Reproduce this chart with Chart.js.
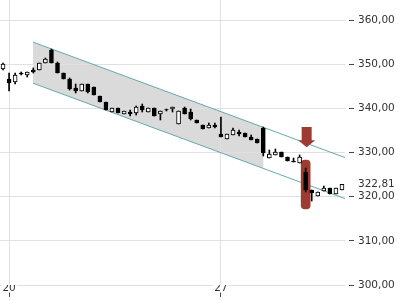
<!DOCTYPE html>
<html><head><meta charset="utf-8">
<script src="https://cdn.jsdelivr.net/npm/chart.js@4/dist/chart.umd.min.js"></script>
<style>html,body{margin:0;padding:0;background:#fff}</style>
</head><body>
<canvas id="c" width="400" height="300"></canvas>
<script>
const categories = ['17 7',
 '20 1','20 2','20 3','20 4','20 5','20 6','20 7',
 '21 1','21 2','21 3','21 4','21 5','21 6','21 7',
 '22 1','22 2','22 3','22 4','22 5','22 6','22 7',
 '23 1','23 2','23 3','23 4','23 5','23 6','23 7',
 '24 1','24 2','24 3','24 4','24 5','24 6','24 7',
 '27 1','27 2','27 3','27 4','27 5','27 6','27 7',
 '28 1','28 2','28 3','28 4','28 5','28 6','28 7',
 '29 1','29 2','29 3','29 4','29 5','29 6','29 7'];
const opens = [348.91,
 346.64,345.96,348.00,347.55,348.68,348.68,350.26,
 353.21,350.26,348.00,346.64,344.60,343.92,345.51,
 344.83,342.79,341.43,339.17,340.08,338.72,339.17,
 338.94,340.53,339.17,340.08,338.72,339.74,339.85,
 336.45,340.08,339.17,337.36,336.23,335.55,336.23,
 334.19,333.06,333.96,334.64,334.41,333.51,333.06,
 335.55,328.75,329.43,330.11,328.98,328.07,327.62,
 325.58,321.51,320.15,321.28,321.96,320.60,321.51];
const highs = [350.26,
 348.00,348.00,348.23,348.23,349.13,350.26,351.40,
 353.43,350.49,348.00,346.87,345.51,345.51,345.51,
 344.83,342.79,341.43,340.08,340.08,339.40,339.62,
 340.53,340.98,340.08,340.08,339.40,339.85,340.30,
 339.40,340.30,339.85,337.36,336.23,336.68,336.68,
 338.04,334.19,335.55,335.09,334.41,333.96,333.06,
 335.77,330.57,330.79,330.11,328.98,328.75,329.43,
 326.49,321.51,321.06,322.41,321.96,321.96,322.81];
const lows = [348.68,
 343.92,345.51,347.55,347.09,348.00,348.68,350.26,
 350.26,348.00,346.64,344.15,343.47,343.92,343.47,
 343.02,341.43,339.62,339.17,338.94,338.72,338.26,
 338.49,339.17,339.17,338.26,337.36,339.40,339.17,
 336.45,338.72,337.36,336.68,335.32,335.55,335.55,
 333.51,333.06,333.96,333.74,333.51,332.83,332.15,
 329.21,328.75,329.43,328.98,328.07,327.85,327.62,
 321.06,319.02,320.15,321.28,320.60,320.60,321.51];
const closes = [350.04,
 345.74,347.55,347.77,348.23,348.23,350.26,351.17,
 350.26,348.00,346.64,344.38,343.92,345.51,343.70,
 343.02,341.43,339.62,340.08,338.94,339.40,338.72,
 340.30,339.62,340.08,338.26,339.40,339.62,340.30,
 339.40,338.72,337.58,336.68,335.32,336.23,335.77,
 333.51,334.19,335.09,334.19,333.51,332.83,332.15,
 329.89,329.66,330.11,328.98,328.07,327.85,328.98,
 321.51,320.83,321.06,321.96,320.60,321.96,322.81];
const xTickDays = ['20','27'];
const yTickValues = [300,310,320,330,340,350,360];
const lastPrice = 322.81;
const channelX = [4.95, 56.5];
const channelUpper = [355.0, 328.85];
const channelLower = [345.7, 319.55];
const channelShadeEnd = 43;
const highlightIndex = 50;
const highlightRange = [317.2, 328.3];
const arrowIndex = 50;
const arrowValues = [335.8, 332.8, 331.2];

const RED = '#9d3b33';
const TEAL = '#66a9ad';
const GRID = '#e0e0e0';
const FONT = {family: 'DejaVu Sans', size: 10.5};

function weekLabel(i) {
  const parts = categories[i].split(' ');
  return (parts[1] === '1' && xTickDays.includes(parts[0])) ? parts[0] : '';
}
const isWeek = i => weekLabel(i) !== '';

const bodyData = opens.map((o, i) => [o, closes[i]]);
const wickData = lows.map((l, i) => [l, highs[i]]);
const bodyColors = opens.map((o, i) => closes[i] >= o ? '#ffffff' : '#000000');
const highlightData = categories.map((c, i) => i === highlightIndex ? highlightRange : null);

const shadePlugin = {
  id: 'shade',
  beforeDraw(chart) {
    const xs = chart.scales.xl, ys = chart.scales.y, ctx = chart.ctx;
    const t = (channelShadeEnd - channelX[0]) / (channelX[1] - channelX[0]);
    const uEnd = channelUpper[0] + t * (channelUpper[1] - channelUpper[0]);
    const lEnd = channelLower[0] + t * (channelLower[1] - channelLower[0]);
    ctx.save();
    ctx.fillStyle = '#dadada';
    ctx.beginPath();
    ctx.moveTo(xs.getPixelForValue(channelX[0]), ys.getPixelForValue(channelUpper[0]));
    ctx.lineTo(xs.getPixelForValue(channelShadeEnd), ys.getPixelForValue(uEnd));
    ctx.lineTo(xs.getPixelForValue(channelShadeEnd), ys.getPixelForValue(lEnd));
    ctx.lineTo(xs.getPixelForValue(channelX[0]), ys.getPixelForValue(channelLower[0]));
    ctx.closePath();
    ctx.fill();
    ctx.restore();
  }
};

const arrowPlugin = {
  id: 'arrow',
  afterDatasetsDraw(chart) {
    const xs = chart.scales.x, ys = chart.scales.y, ctx = chart.ctx;
    const cx = xs.getPixelForValue(arrowIndex) + 1;
    const yTop = ys.getPixelForValue(arrowValues[0]);
    const yBase = ys.getPixelForValue(arrowValues[1]);
    const yTip = ys.getPixelForValue(arrowValues[2]);
    ctx.save();
    ctx.fillStyle = RED;
    ctx.beginPath();
    ctx.moveTo(cx - 5, yTop);
    ctx.lineTo(cx + 5, yTop);
    ctx.lineTo(cx + 5, yBase);
    ctx.lineTo(cx + 8.5, yBase);
    ctx.lineTo(cx, yTip);
    ctx.lineTo(cx - 8.5, yBase);
    ctx.lineTo(cx - 5, yBase);
    ctx.closePath();
    ctx.fill();
    ctx.restore();
  }
};

new Chart(document.getElementById('c'), {
  type: 'bar',
  data: {
    labels: categories,
    datasets: [
      {type: 'bar', data: bodyData, backgroundColor: bodyColors, borderColor: '#000', borderWidth: 1,
       borderSkipped: false, barThickness: 4, grouped: false, order: 1},
      {type: 'bar', data: wickData, backgroundColor: '#000', borderWidth: 0,
       barThickness: 1, grouped: false, order: 2},
      {type: 'bar', data: highlightData, backgroundColor: RED, borderWidth: 0,
       barThickness: 9, borderRadius: 4, borderSkipped: false, grouped: false, order: 3},
      {type: 'line', xAxisID: 'xl', data: channelX.map((x, i) => ({x, y: channelUpper[i]})),
       borderColor: TEAL, borderWidth: 1, pointRadius: 0, tension: 0, fill: false, order: 4},
      {type: 'line', xAxisID: 'xl', data: channelX.map((x, i) => ({x, y: channelLower[i]})),
       borderColor: TEAL, borderWidth: 1, pointRadius: 0, tension: 0, fill: false, order: 4}
    ]
  },
  options: {
    responsive: false,
    animation: false,
    layout: {padding: 0},
    plugins: {legend: {display: false}, tooltip: {enabled: false}},
    scales: {
      x: {
        type: 'category', offset: true,
        afterFit: s => { s.height = 15; s.paddingLeft = 0; s.paddingRight = 0; },
        grid: {offset: false,
          color: ctx => isWeek(ctx.index) ? GRID : 'transparent',
          tickColor: ctx => isWeek(ctx.index) ? '#444' : 'transparent',
          tickLength: 12},
        border: {display: false},
        ticks: {autoSkip: false, maxRotation: 0, minRotation: 0, padding: -15, color: '#333', font: FONT,
          callback: (v, i) => weekLabel(i),
          showLabelBackdrop: ctx => isWeek(ctx.index),
          backdropColor: '#ffffff',
          backdropPadding: {top: 0, bottom: -2, left: 1, right: 1}}
      },
      xl: {type: 'linear', display: false, offset: false, grid: {offset: false}, min: -0.5, max: 56.5},
      y: {
        type: 'linear', position: 'right', min: 300, max: 364.53,
        afterBuildTicks: s => { s.ticks = yTickValues.concat([lastPrice]).sort((a, b) => a - b).map(v => ({value: v})); },
        afterFit: s => { s.width = 55; s.paddingTop = 0; s.paddingBottom = 0; },
        grid: {
          color: ctx => (ctx.tick && ctx.tick.value === lastPrice) ? 'transparent' : GRID,
          tickColor: ctx => (ctx.tick && ctx.tick.value === lastPrice) ? 'transparent' : '#444',
          tickLength: 9, tickBorderDash: [0, 4, 5]
        },
        border: {display: false},
        ticks: {autoSkip: false, padding: 4, color: '#333', font: FONT,
          callback: v => Number(v).toFixed(2).replace('.', ',')}
      }
    }
  },
  plugins: [shadePlugin, arrowPlugin]
});
</script>
</body></html>
